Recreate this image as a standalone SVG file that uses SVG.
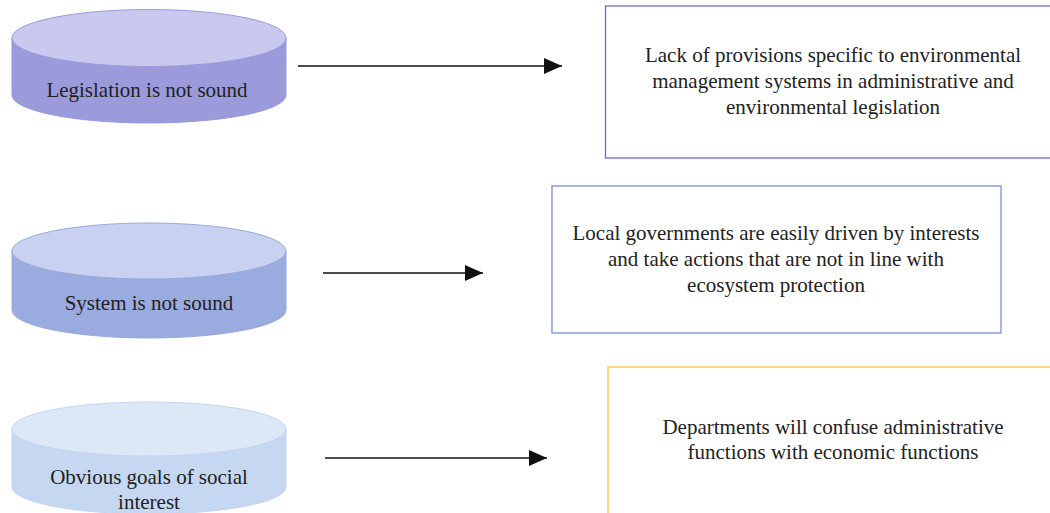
<svg xmlns="http://www.w3.org/2000/svg" width="1050" height="513" viewBox="0 0 1050 513">
<defs>
<style>
text{font-family:"Liberation Serif","Times New Roman",serif;font-size:21px;fill:#222;text-anchor:middle}
.conn line{stroke:#111;stroke-width:1.5}
.box{fill:#fff;stroke-width:1.3}
</style>
<marker id="ah" markerWidth="18" markerHeight="16" refX="18" refY="8" orient="auto" markerUnits="userSpaceOnUse">
<path d="M0,0 L18,8 L0,16 Z" fill="#111"/>
</marker>
</defs>
<rect width="1050" height="513" fill="#fff"/>

<g id="cyl1">
<path d="M12,38 L12,95 A137,28 0 0 0 286,95 L286,38 Z" fill="#9b9bdb" stroke="#9a9ade" stroke-width="1"/>
<ellipse cx="149" cy="38" rx="137" ry="28.5" fill="#c9c9ef" stroke="#9a9ade" stroke-width="1"/>
<text x="147" y="97">Legislation is not sound</text>
</g>

<g id="cyl2">
<path d="M12,251 L12,310 A137,28 0 0 0 286,310 L286,251 Z" fill="#9aabdf" stroke="#98a9de" stroke-width="1"/>
<ellipse cx="149" cy="251" rx="137" ry="28" fill="#c8d2f0" stroke="#98a9de" stroke-width="1"/>
<text x="149" y="310">System is not sound</text>
</g>

<g id="cyl3">
<path d="M12,429 L12,487 A137,27 0 0 0 286,487 L286,429 Z" fill="#c5d7f1" stroke="#c2d5f0" stroke-width="1"/>
<ellipse cx="149" cy="429" rx="137" ry="27" fill="#dde8f7" stroke="#c2d5f0" stroke-width="1"/>
<text x="149" y="484">Obvious goals of social</text>
<text x="149" y="509">interest</text>
</g>

<g id="box1">
<rect class="box" x="605.5" y="6" width="460" height="152" stroke="#6b6bc9"/>
<text x="833" y="62">Lack of provisions specific to environmental</text>
<text x="833" y="88">management systems in administrative and</text>
<text x="833" y="114">environmental legislation</text>
</g>

<g id="box2">
<rect class="box" x="552" y="186" width="449" height="147" stroke="#7b8fd6"/>
<text x="776" y="240">Local governments are easily driven by interests</text>
<text x="776" y="266">and take actions that are not in line with</text>
<text x="776" y="292">ecosystem protection</text>
</g>

<g id="box3">
<rect class="box" x="608" y="367" width="460" height="160" stroke="#f5c842"/>
<text x="833" y="434">Departments will confuse administrative</text>
<text x="833" y="459">functions with economic functions</text>
</g>

<g class="conn" id="connectors">
<line x1="298" y1="66" x2="562" y2="66" marker-end="url(#ah)"/>
<line x1="323" y1="273" x2="483" y2="273" marker-end="url(#ah)"/>
<line x1="325" y1="458" x2="547" y2="458" marker-end="url(#ah)"/>
</g>
</svg>
